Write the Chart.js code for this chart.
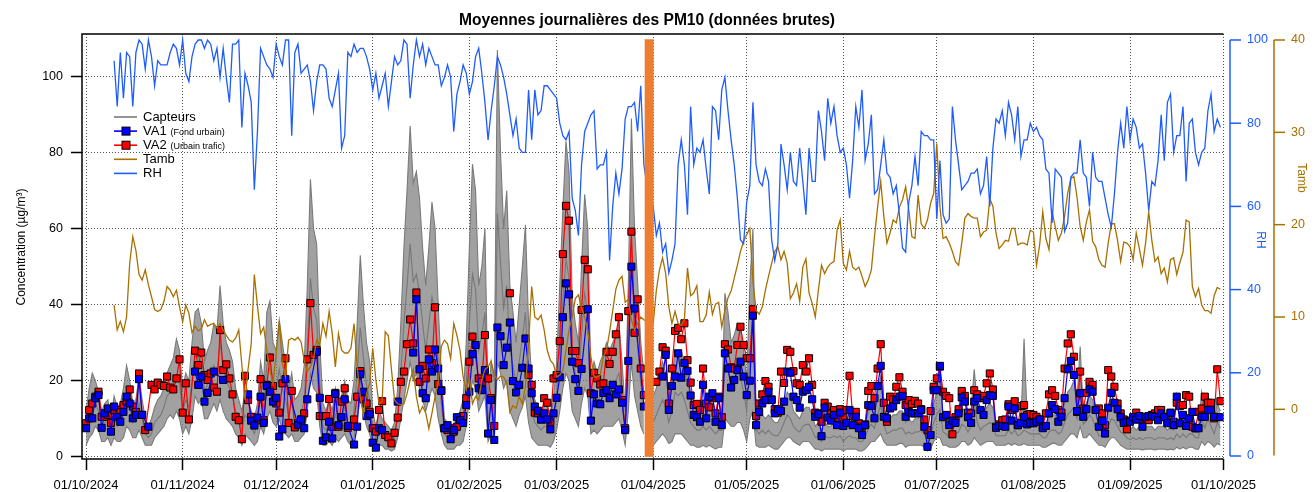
<!DOCTYPE html>
<html>
<head>
<meta charset="utf-8">
<script src="https://cdn.jsdelivr.net/npm/chart.js@4.4.1/dist/chart.umd.min.js"></script>
<style>
  html, body { margin: 0; padding: 0; background: #fff; }
</style>
</head>
<body>
<canvas id="chart" width="1315" height="492"></canvas>
<script>
// x axis = days since 01/10/2024
const monthDays = [0, 31, 61, 92, 123, 151, 182, 212, 243, 273, 304, 335, 365];
const monthLabels = ['01/10/2024', '01/11/2024', '01/12/2024', '01/01/2025', '01/02/2025', '01/03/2025',
  '01/04/2025', '01/05/2025', '01/06/2025', '01/07/2025', '01/08/2025', '01/09/2025', '01/10/2025'];
const concTicks = [0, 20, 40, 60, 80, 100];
const rhTicks = [0, 20, 40, 60, 80, 100];
const tambTicks = [0, 10, 20, 30, 40];

const stopDay = 180.7;   // orange band (end of March)
const metStart = 9;      // Tamb / RH start on day 9

// VA1 (Fond urbain), daily, from day 0
const va1 = [
  7.5,10.1,10.1,15.4,16.2,7.6,11.4,12.7,6.6,13.2,
  10.5,9.2,11.8,15.8,14,10.1,11,20.4,11,null,
  7.9,null,null,null,null,null,null,null,null,null,
  null,null,null,null,null,22.4,18.9,21.1,14.5,16.8,
  null,22.4,null,null,20.2,null,null,null,null,null,
  null,null,16.4,9.5,8.2,10.3,15.8,8.9,18.6,17.1,
  14.5,15.5,5.3,7.2,20.4,null,null,null,8.3,9.8,
  7.5,15.1,null,null,27.6,15.5,4.2,5.1,9.2,4.8,
  16.5,8.3,10.4,15.1,8.1,null,3.2,7.9,21.7,17.1,
  10.7,11.2,3.7,2.4,7.5,7,null,null,null,null,
  14.5,null,null,null,null,27.4,41.4,23,16.7,15.4,
  25.6,22.4,28.2,23.2,17.3,7.5,8.3,4.6,7,10.4,
  9.6,8.9,13.6,17.1,27,29.4,18,17.5,22.8,6.1,
  14.9,4.4,34,31.7,24.1,28.7,35.3,19.9,16.9,18.9,
  23.4,31.1,23.2,16.7,13.2,12.1,9.8,11.4,9.8,7.2,
  11.4,15.5,20.9,36.7,45.6,42.7,25,20.4,17.3,23.1,
  null,38.8,9.5,16.4,14,13.8,16.8,17.5,15.4,18.9,
  16.4,17.7,14.2,7,25.2,50,39,null,null,13.2,
  null,null,null,null,null,21.1,26.8,12.3,18.6,21.1,
  27.2,20.8,24.7,22.6,16.1,11,10.4,9.2,18.9,10.1,
  15.8,16.7,9.2,15.4,8.3,27.2,23.2,18.2,20.2,22.8,
  25,21.1,16.2,20,37.1,8.3,11.8,14,14.9,17.1,
  14.9,11.4,12.5,12,14.5,22.4,22.1,15.8,14.9,12.9,
  17.1,17.5,18.4,15.1,10.5,11.2,5.4,12.9,10.3,9.5,
  11,8.3,11.6,8.1,8.9,12.3,8.3,10.5,7.5,5.7,
  8.3,13.6,13.3,10.1,18.6,23.9,10.5,10.1,12.7,13.2,
  14.9,15.8,16,10.5,11.8,11.4,11.4,11.4,12.3,7.9,
  2.6,5.7,17.5,17.5,23.9,10.4,11,8.3,9.5,8.9,
  11.4,15.6,14.5,10.4,8.9,14.5,15.4,12.3,11,14.9,
  16.2,16,7.6,8.1,8.1,7.9,13.2,9.5,12.7,8.3,
  8.9,10.5,8.5,8.9,8.8,9.2,9.8,7.5,8.1,11.4,
  13.6,12.5,9.2,10.5,15.4,23,25.2,21.5,12,16.7,
  10.5,12.5,17.7,17.1,12.3,7.9,9.4,6.1,12.9,16.8,
  14.2,12.5,10.4,8.9,9.2,9.2,10.4,9.8,10.7,7.9,
  10.5,10.7,10.7,10.5,9.6,11.4,10.4,8.8,11.6,8.3,
  15.8,8.8,11,8.1,10.1,11.8,7.5,7.5,10.5,10.5,
  12.3,12.3,10.5,null,10.4
];

// VA2 (Urbain trafic), daily, from day 0
const va2 = [
  8.8,12.3,14,15.8,17.1,10.5,10.5,11,8.9,12.3,
  12.3,11.8,13.6,14.5,17.7,13.2,11.8,21.9,11,7,
  null,18.9,17.7,19.5,18.9,18.6,21.1,18.2,17.7,20.6,
  25.6,11.6,19.3,9.8,null,27.9,24.1,27.4,21.5,20.2,
  21.9,18.2,17.1,33.3,22.8,24.3,20.6,16.4,10.5,9.6,
  4.6,21.3,14.9,10.5,9.2,9.6,20.4,9.6,18.9,26.1,
  18.6,14,11.6,19.3,25.9,8.9,17.3,7.7,8.8,9.8,
  11.4,25.6,40.4,26.8,28.1,10.7,10.7,10.7,15.2,7.9,
  16.8,7.9,14.5,18,7.6,8.1,9.8,15.8,22.5,15.1,
  14,11.8,7.5,6.6,12.3,14.6,5.7,5.1,3.5,6.3,
  10.3,19.7,22.4,29.6,36.1,29.8,43.2,19.7,23.9,20.6,
  28.2,24.6,39.3,19.1,17.5,7.5,7,7.5,6.6,7.9,
  10.1,10.7,15.4,25,31.6,null,20.6,19.7,32,20.6,
  15.4,8.1,null,null,null,null,43,null,null,null,
  null,null,21.5,18.9,11.6,11.4,9.8,15.4,14.2,9.2,
  20.6,21.5,30.4,53.3,66,62.1,27.8,27.8,24.6,38.6,
  51.8,49.3,16.7,22.1,20.6,19,19.3,27.6,24.4,27.6,
  32.2,36.7,14.9,7.5,38.3,59.2,32.6,41.4,23.2,16.2,
  null,null,null,19.7,22.4,28.8,27.9,14,23.2,33.1,
  33.9,30.9,35.1,25.4,19.5,13.6,13.9,12.3,23.2,14,
  13,15.4,11.4,15.8,10.4,29.6,28.2,23.5,23.2,29.4,
  34.2,29.4,25.9,25.9,38.8,10.7,14,16.4,19.9,18.4,
  15.1,12.5,11.6,22.4,19.4,28.1,27.6,22.5,19.3,18.9,
  24.1,22.4,25.9,18.9,11.6,11.4,9.2,14.2,13.2,11.4,
  12.3,10.1,12.5,10.3,12.3,21.3,10.7,11.8,8.8,7.9,
  8.5,17.3,18.6,15.4,23.2,29.6,14.2,9.2,15.8,15.1,
  18.4,20.9,17.1,13.6,14.9,13.9,14.7,14,12.5,9.8,
  7,12,18.4,20.6,23.7,17.1,16,15.4,5.9,10.4,
  12.5,17.3,16,11.6,11.4,17.5,16.4,15.4,16,19.3,
  21.9,17.7,7.9,8.5,9.6,9.8,13.8,12.3,14.6,8.3,
  13.3,13.6,11,11.2,11,10.5,9.8,7.9,11.4,16.4,
  17.5,16,12.3,11.6,23.2,29.8,32.2,26.3,11.8,22.4,
  12.7,16.8,19.7,18.9,12.3,12.7,11.4,8.3,22.8,21.1,
  18.4,14,11.4,9.8,7.2,9.5,9.8,11.6,9.8,9.8,
  10.1,9.6,11,11.4,12.3,12.3,10.5,9.2,11.4,9.2,
  14.2,13.3,13.6,16.2,15.8,7.9,7.5,11.8,12.7,15.8,
  14.2,14.2,10.1,23,14.6
];

// sensors (capteurs): low / middle / high traces, daily from day 0
const capLow = [
  3,5,6,8,7,4,4,5,3,5, 4,4,5,8,7,5,5,7,5,3, 3,3,5,6,7,8,10,11,10,12,
  10,6,8,6,10,16,14,15,10,10, 12,14,12,15,12,10,9,8,6,5, 3,6,5,4,3,4,8,6,10,12,
  9,8,10,7,6,5,6,4,4,5, 6,12,22,18,17,8,3,3,4,3, 5,4,5,6,4,3,5,10,15,12,
  8,6,3,1.5,3,3,2,2,1.5,2, 5,10,15,20,25,20,22,18,15,12, 15,18,16,10,6,3,2,2,2,3,
  3,4,8,15,20,18,12,14,16,4, 6,5,25,22,18,20,12,10,8,11, 13,16,9,5,4,3,3,3,3,2.5,
  4,7,12,18,22,20,12,10,8,14, 18,16,6,7,6,7,8,8,8,8, 9,10,7,3,12,25,16,12,8,6,
  null,null,3,4,5,6,5,3.5,4,6, 6,6,5,4,3,3,2.5,2.5,3,2.5, 3,2.5,2,2.5,2.5,10,9,8,8,9,
  9,7,4,10,12,3,2.5,2.5,2.5,3, 2.5,2,2,3,4,5,5,4,3.5,3, 4,4,4,3,2,2,1.5,2,2,2,
  2,2,2,1.5,2,2,2,2,1.5,1.5, 2,3,4,4,5,6,4,3,3,3, 3,3.5,3.5,2.5,3,3,3,3,3,2.5,
  1.5,2,4,5,5,3,3,2.5,2.5,2.5, 3,4,4,3,3.5,5,4,3,3.5,4, 4,4,3,3,3,3,3.5,3,3.5,3,
  3,3.5,3,3,3,3,3,2.5,2.5,3, 3.5,3.5,3,3,4,5,6,6,5,8, 5,5,6,5,4,3,3,2.5,4,5,
  5,4,3,2.5,2,2,2,2,2,1.8, 2,2,2,1.8,2,2,2,1.8,2,1.8, 2.5,2,2.5,2,2.5,2.5,2,2,4,3,
  4,3.5,2.5,3.5,3
];
const capMid = [
  8,11,14,14,12,8,9,10,7,10, 8,9,11,16,13,9,10,14,10,6, 5,6,9,10,11,13,16,17,18,21,
  19,12,15,13,20,27,26,25,17,19, 21,24,22,30,23,20,18,16,12,10, 7,11,10,8,6,9,16,13,24,26,
  19,18,23,18,15,11,14,9,10,11, 15,28,47,39,36,19,8,7,9,7, 11,9,10,13,9,8,12,22,34,26,
  19,15,7,5,7,6,5,5,4,5, 11,22,35,45,56,46,48,43,35,28, 35,42,38,25,14,6,5,5,5,6,
  7,9,19,35,48,44,28,32,38,9, 15,12,64,51,39,45,28,24,19,25, 31,38,22,12,9,8,7,8,8,6,
  9,16,28,41,52,47,27,22,19,32, 43,38,13,16,14,16,17,19,18,19, 20,22,16,7,28,57,38,29,19,14,
  null,null,9,11,13,15,13,9,12,17, 16,17,15,12,9,8,7,7,8,7, 8,7,6,7,7,26,23,19,20,22,
  21,17,12,27,36,7,6,7,6,7, 6,5.5,5.5,7,9,11,10,8,7,6.5, 8,8.5,8.5,7,5,5.5,4,5.5,5,5,
  5.5,5,5.5,4,5,5.5,5,5,4,4, 5,7.5,8.5,7.5,11,13.5,8.5,6,6.5,7, 7,7.5,7.5,6,6.5,6,6.5,6.5,7,6,
  4,5,9,11,12.5,6.5,6,5,5,6, 6.5,8.5,8,6.5,8,14,9,7,8,8.5, 9,8.5,5.5,5.5,5.5,5.5,7,6,7,5.5,
  6,7,6.5,6,6,6,6,5,5,6.5, 7,7,6,6.5,9,11,12,13,10,18, 8.5,9.5,11,10,7.5,5.5,5.5,5,8,10,
  9.5,8,6.5,6,5,4.5,5,4.5,5,4.5, 5,5,5,4.5,5,5,5,4.5,5,4.5, 6,5,6,5,6,6,5,5,10,7.5,
  10,8,6,9,7.5
];
const capHigh = [
  12,18,22,20,17,12,14,15,10,16, 13,14,18,24,20,14,15,21,15,10, 8,10,13,15,16,18,22,24,26,31,
  28,18,22,20,30,38,39,35,25,28, 30,35,33,45,35,30,28,25,18,15, 12,17,15,12,10,14,25,20,38,41,
  30,28,36,30,24,18,22,15,16,18, 24,45,73,60,56,30,14,12,15,12, 18,14,16,20,15,14,20,35,53,40,
  30,25,12,8,12,10,9,8,7,9, 18,35,55,70,87,72,75,68,55,45, 55,67,60,40,22,10,9,8,8,10,
  12,15,30,55,77,70,45,50,60,15, 25,20,107,80,60,70,45,38,30,40, 50,61,35,20,15,13,12,14,13,10,
  15,25,45,65,83,75,42,35,30,50, 69,60,20,25,22,25,27,30,28,30, 32,35,25,12,45,89,60,46,30,22,
  null,null,16,18,22,25,22,15,20,28, 26,28,25,20,15,13,12,12,14,12, 13,12,10,11,12,43,38,30,32,35,
  33,28,20,45,60,12,10,11,10,11, 10,9,9,11,14,17,16,12,11,10, 12,13,13,11,8,9,7,9,8,8,
  9,8,9,7,8,9,8,8,7,6, 8,12,13,11,17,21,13,9,10,11, 11,12,12,9,10,9,10,10,11,9,
  6,8,14,17,20,10,9,8,8,9, 10,13,12,10,12,23,14,11,12,13, 14,13,8,8,8,8,11,9,10,8,
  9,31,10,9,9,9,9,8,8,10, 11,11,9,10,14,17,18,20,15,29, 12,14,16,15,11,8,8,7,12,15,
  14,12,10,9,8,7,8,7,8,7, 8,8,8,7,8,8,8,7,8,7, 10,8,9,8,9,10,8,8,17,12,
  16,13,10,14,12
];

// Tamb (°C), daily from day 9
const tamb = [
  11.3,
  8.6,9.5,8.4,10,15.8,18.7,17.2,14.6,14,15.1,
  13.5,12.2,10.8,10.6,10.8,11.7,13.3,12.9,12.2,12.9,
  11.1,9.5,11.3,10.4,8.3,9,8.5,8.7,9.7,9,
  9.2,9.3,8.8,9.3,8.6,8,7.5,7.3,7.7,8.6,
  4.8,1,4.4,7.1,14.6,11.2,8.2,8.9,6.4,4.2,
  2.8,6,9.5,5,3.5,7.5,7.7,7.5,7.8,7.3,
  5.3,4.1,4.6,5.5,7.5,7,9.3,7.9,10.6,8.2,
  4.6,8.2,6.4,6.1,6.1,6.6,9.3,4.6,1.4,-0.6,
  1.7,2.8,6.6,3.2,0.6,0.8,8.4,8,4.3,1,
  0.6,0.5,0.6,1.7,3.2,4.3,1.4,-0.4,0.3,-0.4,
  -2.1,-0.4,1.4,2.8,6.8,7.5,7.1,5.5,9.3,8,
  6.4,3.5,2.1,3.5,0.6,1.4,1,3.2,4.3,4.6,
  5.2,3.7,3.2,3.6,3.5,2.8,-0.3,0.4,0.1,1.4,
  0.6,2.5,7,13.3,10,9.7,10.2,8.6,6.4,5.3,
  4.9,3.5,3.7,4.2,6.4,8.6,10,12,12.4,11,
  10,8.6,5.7,3.5,3.5,3.7,5.7,6.4,8.4,10.7,
  13,14,14.4,11.6,11.9,9.7,8.6,9.3,10,9.7,
  9.5,9.3,9.3,12.9,15.1,16.4,14.7,11.1,9.3,10.6,
  9.3,9.1,9.7,15.3,12.3,12.6,13.4,9.5,9.5,10.2,
  12.7,10.3,11.4,11.6,8.9,10.7,12.1,12.8,14.2,15.6,
  17.1,18.2,18.9,19.6,13.9,10.7,10.3,11.1,12.9,14.4,
  15.8,17.1,17.6,16.2,17.1,15.8,12,12.6,13.6,11.7,
  15.4,16.3,12.6,11.5,10,12.9,15.6,14.7,15.4,15.8,
  16,19.4,20.5,15.8,15.1,17.1,15.4,15.1,15.4,14.4,
  13.3,14,15.1,18.7,21.9,24.7,20.9,18,19.1,20.5,
  20.2,21.9,22.7,24.1,21.6,18.7,18.5,23.2,20.1,19.6,
  20.5,22.3,23.4,28.8,22,18.5,18.7,18,17.1,16,
  15.6,18,20.7,21.2,20.9,20.7,20.7,18.7,19.2,19.4,
  22.8,22,19.1,17.4,17.8,18.3,18.2,19.6,19.6,17.8,
  18,18,17.8,19.4,19.2,15.6,17.8,21.4,18.5,17.3,
  21.4,19.8,18.3,19.1,20.9,23.4,25,25.2,23,19.8,
  18.3,20.3,21.6,18.2,17.6,16.2,15.6,15.4,18,20.1,
  20.1,18.3,16,18.1,18,17.6,16.2,19.1,17.4,15.6,
  18,21.4,18.3,16,16.5,14.7,15.3,13.8,16.2,16.4,
  14.6,15.9,17,20.5,20.3,13.3,12.2,13.1,11.3,10.7,
  10.7,10.4,12.3,13.2,13
];

// RH (%), daily from day 9
const rh = [
  95,
  84,97,86,97,96,84,97,100,99,93,
  100,96,89,95,94,94,94,97,99,98,
  94,100,92,90,96,99,100,100,98,100,
  99,95,98,91,98,91,85,99,99,100,
  79,92,89,85,64,78,98,96,94,93,
  91,99,96,94,100,100,77,97,99,92,
  93,94,90,83,90,94,94,93,86,84,
  88,92,74,77,97,96,99,97,98,98,
  96,93,88,92,86,89,92,84,90,96,
  94,95,100,99,86,94,100,96,99,94,
  98,96,94,94,89,91,94,91,78,87,
  90,94,92,87,90,96,98,92,85,76,
  83,89,96,94,91,87,82,77,81,74,
  73,73,88,76,88,82,83,89,89,88,
  87,86,80,77,76,78,62,59,53,70,
  78,80,82,83,69,70,70,73,47,60,
  68,63,69,81,84,84,85,78,89,70,
  65,62,60,53,56,49,51,44,47,51,
  70,76,70,58,84,70,74,73,76,69,
  63,84,83,76,88,91,83,76,70,62,
  52,51,61,65,85,70,66,65,69,66,
  52,47,51,75,70,64,73,66,65,74,
  66,58,74,66,66,83,78,71,86,80,
  84,77,73,74,70,62,71,84,79,88,
  71,75,82,63,64,70,76,68,67,63,
  65,58,50,49,61,65,72,65,78,77,
  77,76,76,57,71,58,56,57,84,76,
  70,64,65,66,68,68,69,63,65,72,
  60,74,81,80,83,77,85,82,76,84,
  72,76,76,80,78,79,77,76,69,68,
  56,69,68,67,54,56,67,68,68,76,
  68,67,60,73,67,66,66,62,58,55,
  63,73,80,74,84,76,81,79,74,75,
  68,59,66,65,71,82,71,85,87,73,
  77,77,84,66,80,81,73,70,73,74,
  83,87,78,81,79
];

const FONT = '"Liberation Sans", Arial, Helvetica, sans-serif';
const grey = '#7a7a7a';
const blue = '#0000ff';
const red = '#ff0000';
const tColor = '#a87000';
const rhColor = '#1e5cff';
const orange = '#ed7d31';
const titleText = 'Moyennes journalières des PM10 (données brutes)';

Chart.defaults.font.family = FONT;

function series(arr, start, dropNull) {
  const pts = arr.map((v, i) => ({ x: i + start, y: v }));
  return dropNull ? pts.filter(p => p.y !== null) : pts;
}

function drawSideAxis(ctx, scale, ticks, x0, color, label, tx, ty) {
  const yTop = scale.getPixelForValue(ticks[ticks.length - 1]);
  const yBot = scale.getPixelForValue(scale.options.axisLow);
  ctx.strokeStyle = color;
  ctx.fillStyle = color;
  ctx.lineWidth = 1.5;
  ctx.beginPath();
  ctx.moveTo(x0, yTop);
  ctx.lineTo(x0, yBot);
  ctx.stroke();
  ctx.font = '12.5px ' + FONT;
  ctx.textAlign = 'left';
  ctx.textBaseline = 'middle';
  ticks.forEach(t => {
    const y = scale.getPixelForValue(t);
    ctx.beginPath();
    ctx.moveTo(x0, y);
    ctx.lineTo(x0 + 11, y);
    ctx.stroke();
    ctx.fillText(String(t), x0 + 17, y);
  });
  ctx.save();
  ctx.translate(tx, ty);
  ctx.rotate(Math.PI / 2);
  ctx.textAlign = 'center';
  ctx.font = '12px ' + FONT;
  ctx.fillText(label, 0, 0);
  ctx.restore();
}

const legendItems = [
  { label: 'Capteurs', color: grey },
  { label: 'VA1', sub: '(Fond urbain)', color: blue, marker: blue },
  { label: 'VA2', sub: '(Urbain trafic)', color: red, marker: red },
  { label: 'Tamb', color: tColor },
  { label: 'RH', color: rhColor }
];

const decorPlugin = {
  id: 'decor',
  afterDraw(chart) {
    const ctx = chart.ctx;
    const a = chart.chartArea;
    ctx.save();

    // frame: top, left and bottom axis lines
    ctx.strokeStyle = '#000';
    ctx.lineWidth = 1.5;
    ctx.beginPath();
    ctx.moveTo(a.right, a.top);
    ctx.lineTo(a.left, a.top);
    ctx.lineTo(a.left, a.bottom);
    ctx.lineTo(a.right, a.bottom);
    ctx.stroke();

    // title
    ctx.fillStyle = '#000';
    ctx.font = 'bold 15.6px ' + FONT;
    ctx.textAlign = 'center';
    ctx.textBaseline = 'middle';
    ctx.fillText(titleText, 647, 21);

    // left axis title
    ctx.save();
    ctx.translate(22, 247);
    ctx.rotate(-Math.PI / 2);
    ctx.font = '12px ' + FONT;
    ctx.fillText('Concentration (µg/m³)', 0, 0);
    ctx.restore();

    // right axes
    drawSideAxis(ctx, chart.scales.yRH, rhTicks, 1230, rhColor, 'RH', 1260, 240);
    drawSideAxis(ctx, chart.scales.yT, tambTicks, 1274, tColor, 'Tamb', 1301, 178);

    // legend
    ctx.textBaseline = 'middle';
    ctx.textAlign = 'left';
    legendItems.forEach((it, i) => {
      const y = 117 + i * 14.1;
      ctx.strokeStyle = it.color;
      ctx.lineWidth = 1.6;
      ctx.beginPath();
      ctx.moveTo(114, y);
      ctx.lineTo(137, y);
      ctx.stroke();
      if (it.marker) {
        ctx.fillStyle = it.marker;
        ctx.fillRect(122, y - 4, 8, 8);
        ctx.strokeStyle = '#000';
        ctx.lineWidth = 1;
        ctx.strokeRect(122, y - 4, 8, 8);
      }
      ctx.fillStyle = '#000';
      ctx.font = '13px ' + FONT;
      ctx.fillText(it.label, 143, y);
      if (it.sub) {
        const w = ctx.measureText(it.label).width;
        ctx.font = '9px ' + FONT;
        ctx.fillText(it.sub, 143 + w + 4, y + 1);
      }
    });
    ctx.restore();
  }
};

const gridOpts = {
  color: '#555',
  lineWidth: 1,
  drawTicks: true,
  tickLength: 11,
  tickColor: '#000',
  tickWidth: 1.5,
  tickBorderDash: []
};

new Chart(document.getElementById('chart'), {
  type: 'line',
  data: {
    datasets: [
      {
        label: 'stop', data: [{ x: stopDay, y: 0 }, { x: stopDay, y: 109.8 }],
        borderColor: orange, borderWidth: 9, borderCapStyle: 'butt', pointRadius: 0, order: 0
      },
      {
        label: 'RH', data: series(rh, metStart), yAxisID: 'yRH',
        borderColor: rhColor, borderWidth: 1.3, pointRadius: 0, order: 1
      },
      {
        label: 'Tamb', data: series(tamb, metStart), yAxisID: 'yT',
        borderColor: tColor, borderWidth: 1.3, pointRadius: 0, order: 2
      },
      {
        label: 'VA1', data: series(va1, 0, true), spanGaps: 4.5,
        borderColor: blue, borderWidth: 1.2, pointStyle: 'rect', pointRadius: 5,
        pointBackgroundColor: blue, pointBorderColor: '#000', pointBorderWidth: 1, order: 3
      },
      {
        label: 'VA2', data: series(va2, 0, true), spanGaps: 4.5,
        borderColor: red, borderWidth: 1.2, pointStyle: 'rect', pointRadius: 5,
        pointBackgroundColor: red, pointBorderColor: '#000', pointBorderWidth: 1, order: 4
      },
      {
        label: 'capHigh', data: series(capHigh, 0), borderColor: grey, borderWidth: 1.1,
        pointRadius: 0, fill: 7, backgroundColor: 'rgba(125,125,125,0.72)', order: 5
      },
      {
        label: 'capMid', data: series(capMid, 0), borderColor: '#6a6a6a', borderWidth: 1.1,
        pointRadius: 0, order: 6
      },
      {
        label: 'capLow', data: series(capLow, 0), borderColor: grey, borderWidth: 1.1,
        pointRadius: 0, order: 7
      }
    ]
  },
  options: {
    responsive: false,
    animation: false,
    events: [],
    layout: { padding: { left: 0, top: 34, right: 91.5, bottom: 0 } },
    plugins: { legend: { display: false }, tooltip: { enabled: false } },
    elements: { line: { tension: 0 } },
    scales: {
      x: {
        type: 'linear', position: 'bottom', min: -1.3, max: 365,
        afterBuildTicks: s => { s.ticks = monthDays.map(v => ({ value: v })); },
        afterFit: s => { s.height = 33; },
        ticks: {
          autoSkip: false, maxRotation: 0, padding: 8, color: '#000',
          font: { size: 13 },
          callback: (v, i) => monthLabels[i]
        },
        grid: gridOpts,
        border: { display: false, dash: [1, 2] }
      },
      y: {
        position: 'left', min: -0.6, max: 111.2,
        afterBuildTicks: s => { s.ticks = concTicks.map(v => ({ value: v })); },
        afterFit: s => { s.width = 82; },
        ticks: { padding: 8, color: '#000', font: { size: 12.5 } },
        grid: gridOpts,
        border: { display: false, dash: [1, 2] }
      },
      yRH: { display: false, position: 'right', min: -0.72, max: 101.44, axisLow: 0 },
      yT: { display: false, position: 'right', min: -5.38, max: 40.65, axisLow: -5 }
    }
  },
  plugins: [decorPlugin]
});
</script>
</body>
</html>
